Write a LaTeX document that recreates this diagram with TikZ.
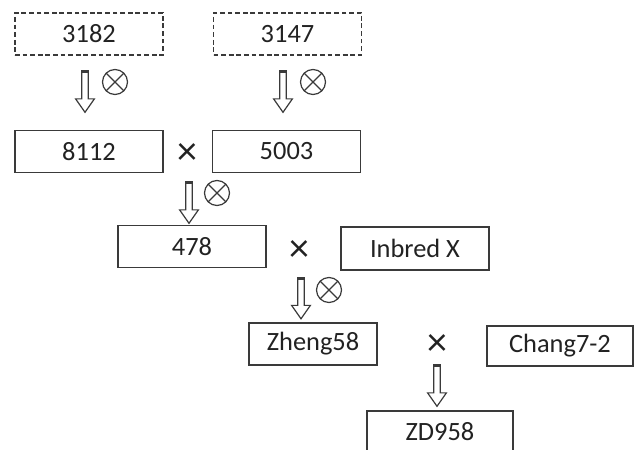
\documentclass[tikz,border=0pt]{standalone}
\usepackage{fontspec}
\setmainfont{Carlito}
\usepackage{tikz}
\usetikzlibrary{shapes.arrows}
\definecolor{linegray}{HTML}{3A3A3A}
\definecolor{textgray}{HTML}{222222}

\begin{document}
\begin{tikzpicture}[
 x=0.5pt,y=-0.5pt,
 font=\fontsize{13.2}{16}\selectfont,
 line/.style={draw=linegray,line width=0.8pt,minimum width=74pt,minimum height=21pt,inner sep=0pt,text=textgray},
 donor/.style={line,dash pattern=on 2.4pt off 1.4pt},
 selfing/.style={circle,draw=linegray,line width=0.6pt,minimum size=12.5pt,inner sep=0pt,
   path picture={\draw[linegray,line width=0.6pt] (path picture bounding box.north west)--(path picture bounding box.south east)
     (path picture bounding box.north east)--(path picture bounding box.south west);}},
 down/.style={single arrow,draw=linegray,line width=0.6pt,rotate=-90,minimum height=20pt,inner xsep=0pt,inner ysep=1.3pt,
   single arrow head extend=3.1pt,single arrow tip angle=70},
 crossing/.style={text=textgray,font=\fontsize{20}{20}\selectfont}
]
\useasboundingbox (0,0) rectangle (636,449);

% first generation
\node[donor] (p1) at (89,34) {3182};
\node[donor] (p2) at (287.5,34) {3147};
\node[down] (a1) at (85,90) {};
\draw[linegray,line width=1.6pt] (a1.before tail)--(a1.after tail);
\node[selfing] (s1) at (115,82) {};
\node[down] (a2) at (283,90) {};
\draw[linegray,line width=1.6pt] (a2.before tail)--(a2.after tail);
\node[selfing] (s2) at (313,82) {};

% 8112 x 5003
\node[line] (p3) at (89,151.5) {8112};
\node[crossing] (x1) at (187,154) {×};
\node[line] (p4) at (286.5,151.5) {5003};
\node[down] (a3) at (189,201) {};
\draw[linegray,line width=1.6pt] (a3.before tail)--(a3.after tail);
\node[selfing] (s3) at (217,193) {};

% 478 x Inbred X
\node[line] (p5) at (192,246.5) {478};
\node[crossing] (x2) at (299,251) {×};
\node[line,minimum height=21.5pt] (p6) at (415,248.5) {Inbred X};
\node[down] (a4) at (301,296.5) {};
\draw[linegray,line width=1.6pt] (a4.before tail)--(a4.after tail);
\node[selfing] (s4) at (329,290) {};

% Zheng58 x Chang7-2
\node[line,minimum width=64pt] (p7) at (313,344) {Zheng58};
\node[crossing] (x3) at (437,345) {×};
\node[line,minimum width=73pt,minimum height=20pt] (p8) at (560,346) {Chang7-2};
\node[down] (a5) at (437,384) {};
\draw[linegray,line width=1.6pt] (a5.before tail)--(a5.after tail);
\node[line,minimum width=73pt,minimum height=20.5pt] (p9) at (440,431.5) {ZD958};
\end{tikzpicture}
\end{document}
